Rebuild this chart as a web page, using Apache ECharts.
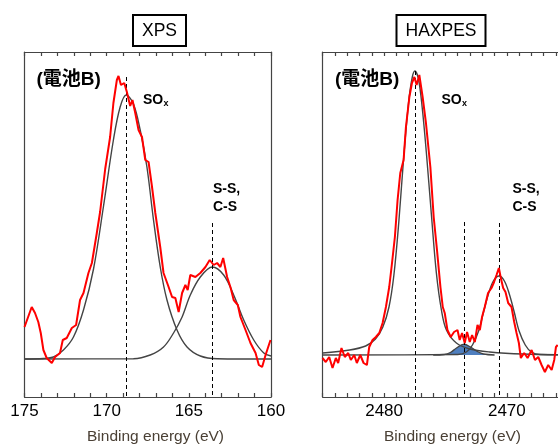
<!DOCTYPE html>
<html>
<head>
<meta charset="utf-8">
<script src="https://cdn.jsdelivr.net/npm/echarts@6/dist/echarts.min.js"></script>
<style>
  html, body { margin: 0; padding: 0; background: #fff; }
  #chart { width: 558px; height: 446px; }
</style>
</head>
<body>
<div id="chart"></div>
<script>
// XPS (S 2p region) - measured spectrum, [binding energy, intensity a.u.]
const xpsSignal = [
  [175.0, 70], [174.56, 90], [174.36, 84], [174.16, 75], [174.01, 64], [173.85, 47],
  [173.65, 39], [173.34, 34], [173.14, 40], [172.84, 44], [172.67, 57], [172.43, 59],
  [172.12, 69], [171.86, 72], [171.62, 97], [171.41, 104], [171.11, 124], [170.90, 134],
  [170.60, 164], [170.40, 185], [170.09, 228], [169.79, 260], [169.59, 294], [169.38, 317],
  [169.28, 321], [169.13, 312], [168.93, 314], [168.77, 305], [168.57, 291], [168.43, 297],
  [168.26, 284], [168.06, 267], [167.85, 260], [167.65, 237], [167.45, 235], [167.24, 210],
  [167.04, 184], [166.74, 150], [166.54, 124], [166.23, 110], [166.02, 100], [165.82, 99],
  [165.62, 85], [165.41, 104], [165.21, 112], [165.07, 107], [164.91, 122], [164.60, 120],
  [164.30, 124], [163.99, 130], [163.73, 137], [163.49, 132], [163.28, 134], [163.08, 130],
  [162.91, 139], [162.67, 120], [162.47, 110], [162.27, 97], [162.02, 92], [161.86, 80],
  [161.55, 67], [161.25, 54], [160.94, 44], [160.74, 32], [160.54, 30], [160.33, 42], [160.03, 57]
];
// XPS fitted components
const xpsFitSOx = [
  [175, 38], [173.85, 38.5], [173.24, 40], [172.63, 47], [172.02, 60], [171.41, 87],
  [170.80, 128], [170.20, 190], [169.59, 257], [169.18, 290], [168.81, 302], [168.37, 293],
  [167.96, 267], [167.55, 230], [167.15, 177], [166.74, 130], [166.33, 97], [165.72, 67],
  [165.11, 50], [164.30, 41], [163.28, 38.3], [160, 38]
];
const xpsFitSS = [
  [175, 38], [168.37, 38.3], [167.35, 42], [166.54, 50], [165.93, 64], [165.41, 80],
  [164.91, 102], [164.30, 120], [163.57, 130], [162.88, 122], [162.27, 102], [161.66, 77],
  [161.05, 57], [160.44, 44], [160, 41]
];

// HAXPES (S 1s region) - measured spectrum
const haxSignal = [
  [2485.02, 39], [2484.75, 35], [2484.47, 40], [2484.20, 29], [2483.93, 39], [2483.74, 34],
  [2483.47, 49], [2483.20, 40], [2482.92, 44], [2482.71, 37], [2482.43, 42], [2482.22, 34],
  [2481.94, 42], [2481.67, 34], [2481.40, 32], [2481.21, 50], [2480.94, 57], [2480.67, 60],
  [2480.39, 64], [2480.12, 74], [2479.85, 90], [2479.58, 110], [2479.39, 130], [2479.12, 160],
  [2478.90, 197], [2478.68, 224], [2478.41, 237], [2478.22, 270], [2477.94, 300], [2477.73, 314],
  [2477.53, 320], [2477.35, 312], [2477.13, 322], [2476.86, 300], [2476.59, 274], [2476.23, 230],
  [2475.96, 180], [2475.69, 147], [2475.41, 110], [2475.22, 90], [2475.06, 84], [2474.84, 67],
  [2474.57, 60], [2474.30, 65], [2474.02, 67], [2473.84, 57], [2473.65, 64], [2473.43, 54],
  [2473.24, 65], [2473.02, 55], [2472.83, 62], [2472.61, 55], [2472.39, 72], [2472.20, 67],
  [2472.02, 80], [2471.80, 90], [2471.53, 104], [2471.25, 109], [2471.04, 115], [2470.84, 122],
  [2470.65, 129], [2470.49, 119], [2470.30, 109], [2470.11, 105], [2469.89, 94], [2469.62, 90],
  [2469.40, 75], [2469.21, 64], [2469.02, 54], [2468.86, 39], [2468.59, 44], [2468.31, 39],
  [2467.98, 47], [2467.71, 37], [2467.44, 40], [2467.17, 32], [2466.90, 25], [2466.63, 32],
  [2466.35, 27], [2466.14, 37], [2466.00, 50], [2465.86, 52]
];
// HAXPES fitted components
const haxFitSOx = [
  [2485, 44], [2482.8, 47], [2481.5, 51], [2480.7, 58], [2480.1, 70], [2479.6, 90],
  [2479.2, 122], [2478.8, 175], [2478.4, 240], [2478.0, 295], [2477.7, 320], [2477.49, 326],
  [2477.2, 318], [2476.9, 290], [2476.56, 245], [2476.15, 183], [2475.74, 124], [2475.33, 87],
  [2474.92, 67], [2474.11, 54], [2473.02, 48], [2471.4, 45], [2468.7, 43], [2464, 42]
];
const haxFitMid = [
  [2476, 42], [2475.1, 42.5], [2474.6, 44.5], [2474.1, 49], [2473.5, 52.7],
  [2472.9, 49.5], [2472.4, 45.5], [2471.9, 43], [2471, 42]
];
const haxFitSS = [
  [2485, 42], [2474.0, 42.5], [2473.3, 45], [2472.8, 52], [2472.3, 66], [2471.9, 85],
  [2471.5, 103], [2471.1, 116], [2470.63, 121], [2470.2, 116], [2469.8, 103], [2469.4, 85],
  [2469.0, 66], [2468.5, 52], [2468.0, 45], [2467.3, 42.5], [2464, 42]
];

// peak positions (dashed markers): [energy, top of line]
const xpsPeaks = [[168.81, 320], [163.57, 174]];
const haxPeaks = [[2477.49, 326], [2473.5, 175], [2470.63, 174]];

const FONT = 'Liberation Sans, Arial, sans-serif';
const CJK = '"Liberation Sans", "Noto Sans CJK JP", sans-serif';
const frame = { color: '#444', width: 1.2 };

function xAx(grid, min, max, pos, step) {
  return {
    gridIndex: grid, type: 'value', min: min, max: max, interval: 1, inverse: true,
    position: pos,
    axisLine: { onZero: false, lineStyle: frame },
    axisTick: { inside: true, length: 4, lineStyle: frame },
    axisLabel: {
      show: pos === 'bottom', margin: 6, fontSize: 17, color: '#000', fontFamily: FONT,
      formatter: v => (v % step === 0 ? String(v) : '')
    },
    splitLine: { show: false }
  };
}
function yAx(grid, pos) {
  return {
    gridIndex: grid, type: 'value', min: 0, max: 345, position: pos,
    axisLine: { show: true, onZero: false, lineStyle: frame },
    axisTick: { show: false }, axisLabel: { show: false }, splitLine: { show: false }
  };
}
function peakLines(peaks) {
  return {
    silent: true, symbol: ['none', 'none'], label: { show: false },
    lineStyle: { color: '#000', width: 1, type: [4, 3] },
    data: peaks.map(p => [{ coord: [p[0], p[1]] }, { coord: [p[0], 0] }])
  };
}
function fit(xi, data, extra) {
  return Object.assign({
    type: 'line', xAxisIndex: xi, yAxisIndex: xi, data: data, showSymbol: false,
    smooth: 0.35, lineStyle: { color: '#444', width: 1.4 }
  }, extra || {});
}
function spectrum(xi, data) {
  return {
    type: 'line', xAxisIndex: xi, yAxisIndex: xi, data: data, showSymbol: false,
    lineStyle: { color: '#ff0000', width: 2 }, z: 5
  };
}
function txt(x, y, text, size, weight, align, fill) {
  return {
    type: 'text', x: x, y: y, z: 100,
    style: {
      text: text, fontSize: size, fontWeight: weight || 'bold', fontFamily: CJK,
      fill: fill || '#000', align: align || 'left', verticalAlign: 'middle'
    }
  };
}

const chart = echarts.init(document.getElementById('chart'));
chart.setOption({
  animation: false,
  title: [
    { text: 'XPS', left: 133, top: 15, padding: [6, 9, 5, 9], borderColor: '#000', borderWidth: 2,
      textStyle: { fontSize: 17.5, fontWeight: 'normal', color: '#000', fontFamily: FONT, lineHeight: 20 } },
    { text: 'HAXPES', left: 396.5, top: 15, padding: [6, 9, 5, 9], borderColor: '#000', borderWidth: 2,
      textStyle: { fontSize: 17.5, fontWeight: 'normal', color: '#000', fontFamily: FONT, lineHeight: 20 } }
  ],
  grid: [
    { left: 24.5, top: 52, width: 246.5, height: 345, outerBoundsMode: 'none' },
    { left: 322.7, top: 52, right: -22.5, height: 345, outerBoundsMode: 'none' }
  ],
  xAxis: [
    xAx(0, 160, 175, 'bottom', 5), xAx(0, 160, 175, 'top', 5),
    xAx(1, 2464, 2485, 'bottom', 10), xAx(1, 2464, 2485, 'top', 10)
  ],
  yAxis: [yAx(0, 'left'), yAx(0, 'right'), yAx(1, 'left'), yAx(1, 'right')],
  series: [
    fit(0, xpsFitSOx, { markLine: peakLines(xpsPeaks) }),
    fit(0, xpsFitSS),
    spectrum(0, xpsSignal),
    fit(2, haxFitSS, { markLine: peakLines(haxPeaks) }),
    fit(2, haxFitMid, { areaStyle: { color: '#4f7fbf', opacity: 1, origin: 42 }, z: 3 }),
    fit(2, haxFitSOx),
    spectrum(2, haxSignal)
  ],
  graphic: [
    txt(36.5, 80, '(電池B)', 19),
    txt(335, 80, '(電池B)', 19),
    txt(143, 100.5, 'SO', 14), txt(163.5, 104, 'x', 9),
    txt(441.5, 100.5, 'SO', 14), txt(462, 104, 'x', 9),
    txt(213, 189, 'S-S,', 14), txt(213, 207.5, 'C-S', 14),
    txt(512.5, 189, 'S-S,', 14), txt(512.5, 207.5, 'C-S', 14),
    txt(155.5, 437, 'Binding energy (eV)', 15.5, 'normal', 'center', '#4a4035'),
    txt(452.5, 437, 'Binding energy (eV)', 15.5, 'normal', 'center', '#4a4035')
  ]
});
</script>
</body>
</html>
